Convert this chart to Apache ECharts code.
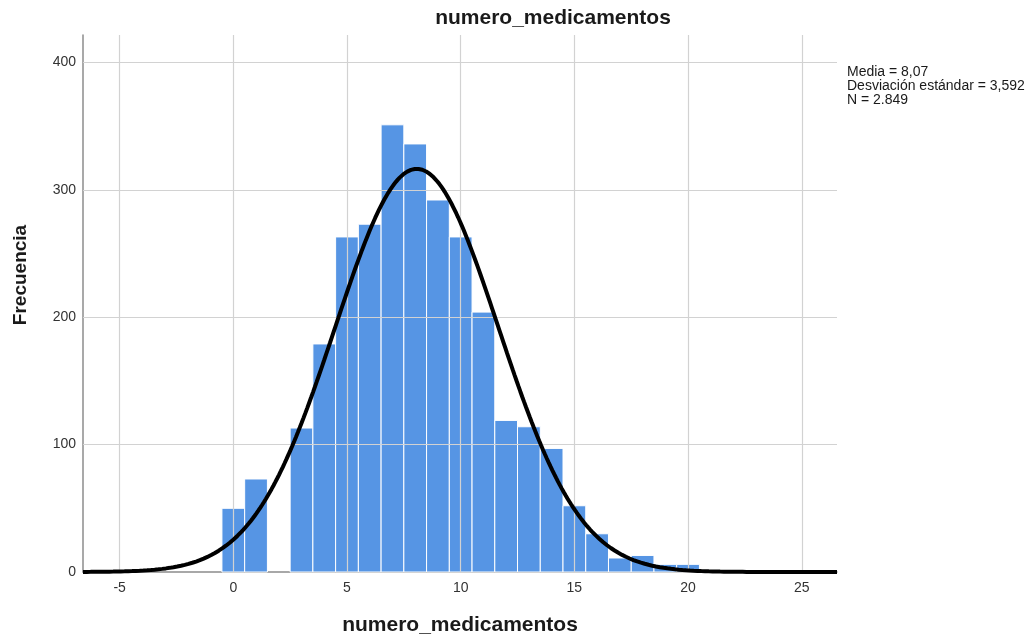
<!DOCTYPE html>
<html>
<head>
<meta charset="utf-8">
<script src="https://cdn.jsdelivr.net/npm/echarts@6/dist/echarts.min.js"></script>
<style>
  html, body { margin: 0; padding: 0; background: #ffffff; }
  #chart { width: 1034px; height: 641px; }
</style>
</head>
<body>
<div id="chart"></div>
<script>
// Histogram bins (centred on integer counts) and their frequencies
const binCenters = [0, 1, 2, 3, 4, 5, 6, 7, 8, 9, 10, 11, 12, 13, 14, 15, 16, 17, 18, 19, 20];
const frequencies = [50, 73, 0, 113, 179, 263, 273, 351, 336, 292, 263, 204, 119, 114, 97, 52, 30, 11, 13, 6, 6];
const binWidth = 1;

// Axis tick values
const xTicks = [-5, 0, 5, 10, 15, 20, 25];
const yTicks = [0, 100, 200, 300, 400];

// Summary statistics shown beside the plot; the normal curve is drawn from them
const mean = 8.07;
const stdDev = 3.592;
const total = 2849;
const statsLines = ['Media = 8,07', 'Desviación estándar = 3,592', 'N = 2.849'];

const xMin = -6.61, xMax = 26.55;
const yMax = 421.5;

const FONT = '"Liberation Sans", Arial, sans-serif';

// Fitted normal curve scaled to counts per bin
const curve = [];
for (let i = 0; i <= 400; i++) {
  const x = xMin + (xMax - xMin) * i / 400;
  const z = (x - mean) / stdDev;
  const y = total * binWidth * Math.exp(-0.5 * z * z) / (stdDev * Math.sqrt(2 * Math.PI));
  curve.push([x, y]);
}

const bars = binCenters.map((c, i) => [c, frequencies[i]]);

const chart = echarts.init(document.getElementById('chart'), null, { renderer: 'canvas' });

chart.setOption({
  animation: false,
  backgroundColor: '#ffffff',
  textStyle: { fontFamily: FONT },
  grid: { left: 83, right: 197, top: 35, bottom: 69, containLabel: false },
  xAxis: {
    type: 'value',
    min: xMin,
    max: xMax,
    name: 'numero_medicamentos',
    nameLocation: 'middle',
    nameGap: 43,
    nameTextStyle: { fontFamily: FONT, fontSize: 21, fontWeight: 'bold', color: '#1a1a1a' },
    axisLine: { show: true, onZero: false, lineStyle: { color: '#8c8c8c', width: 1.5 } },
    axisTick: { show: false },
    splitLine: { show: false },
    axisLabel: { customValues: xTicks, fontFamily: FONT, fontSize: 14, color: '#333333', margin: 9 }
  },
  yAxis: {
    type: 'value',
    min: 0,
    max: yMax,
    axisLine: { show: true, onZero: false, lineStyle: { color: '#8c8c8c', width: 1.5 } },
    axisTick: { show: false },
    splitLine: { show: false },
    axisLabel: { customValues: yTicks, fontFamily: FONT, fontSize: 14, color: '#333333', margin: 7 }
  },
  graphic: [
    {
      type: 'text',
      x: 553, y: 8,
      style: { text: 'numero_medicamentos', fontFamily: FONT, fontSize: 21, fontWeight: 'bold', fill: '#1a1a1a', align: 'center' }
    },
    {
      type: 'text',
      x: 21, y: 275, rotation: Math.PI / 2,
      style: { text: 'Frecuencia', fontFamily: FONT, fontSize: 19, fontWeight: 'bold', fill: '#1a1a1a', align: 'center', verticalAlign: 'middle' }
    },
    {
      type: 'text',
      x: 847, y: 65,
      style: { text: statsLines.join('\n'), fontFamily: FONT, fontSize: 14, lineHeight: 14, fill: '#1a1a1a' }
    }
  ],
  series: [
    {
      // reference grid lines, drawn beneath the bars
      type: 'line',
      data: [],
      z: 0,
      silent: true,
      markLine: {
        silent: true,
        symbol: ['none', 'none'],
        label: { show: false },
        lineStyle: { color: '#d2d2d2', type: 'solid', width: 1.2 },
        emphasis: { disabled: true },
        data: xTicks.map(v => ({ xAxis: v })).concat(yTicks.filter(v => v > 0).map(v => ({ yAxis: v })))
      }
    },
    {
      type: 'custom',
      z: 2,
      data: bars,
      encode: { x: 0, y: 1 },
      renderItem: function (params, api) {
        const c = api.value(0), f = api.value(1);
        if (!f) return null;
        const topLeft = api.coord([c - binWidth / 2, f]);
        const bottomRight = api.coord([c + binWidth / 2, 0]);
        return {
          type: 'rect',
          shape: { x: topLeft[0], y: topLeft[1], width: bottomRight[0] - topLeft[0], height: bottomRight[1] - topLeft[1] },
          style: { fill: '#5695E4', stroke: '#ffffff', lineWidth: 1 }
        };
      }
    },
    {
      type: 'line',
      data: curve,
      z: 5,
      showSymbol: false,
      smooth: false,
      clip: false,
      silent: true,
      lineStyle: { color: '#000000', width: 4 }
    }
  ]
});
</script>
</body>
</html>
